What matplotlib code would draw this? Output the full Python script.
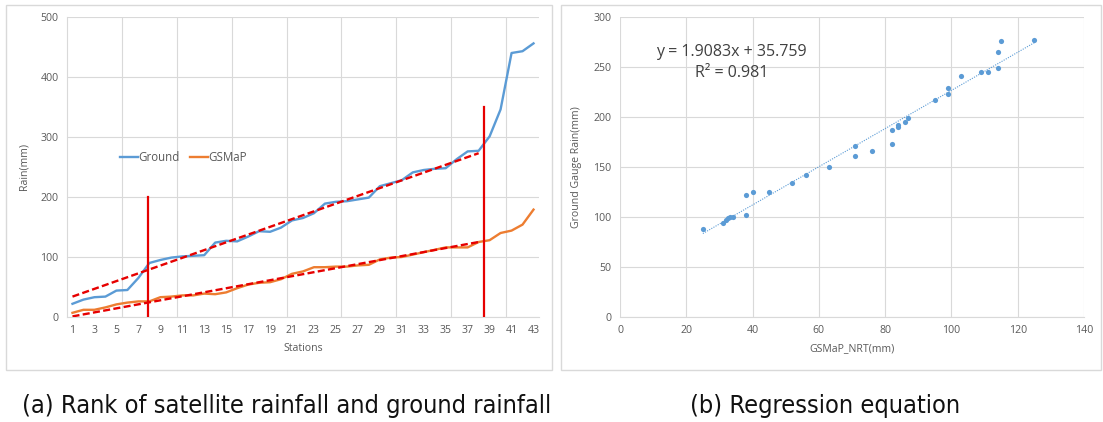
import numpy as np
import matplotlib.pyplot as plt
from matplotlib.patches import Rectangle
from matplotlib.ticker import MultipleLocator, FixedLocator

# ---------------- data ----------------
stations = np.arange(1, 44)
ground = [22, 29, 33, 34, 44, 45, 65, 90, 95, 99,
          101, 102, 103, 124, 127, 126, 134, 143, 142, 149,
          161, 165, 173, 189, 192, 193, 196, 199, 218, 223,
          228, 241, 245, 247, 248, 263, 276, 277, 301, 346,
          440, 443, 456]
gsmap = [7, 12, 12, 16, 21, 24, 26, 26, 33, 34,
         36, 36, 39, 38, 41, 48, 54, 57, 58, 63,
         72, 76, 83, 83, 84, 84, 86, 87, 96, 99,
         100, 104, 108, 112, 116, 116, 116, 125, 128, 140,
         144, 154, 179]
# dashed trend lines drawn over stations 1..38 (start / end values)
trend_x = [1, 38]
ground_trend = [34, 273]
gsmap_trend = [1, 125]
# red vertical markers
cut_x = [7.85, 38.5]
cut_top = [200, 350]

gsmap_nrt = [25, 31, 32, 32.7, 33.3, 34, 38, 38, 40, 45, 52, 56, 63,
             71, 71, 76, 82, 82, 84, 84, 86, 87, 95, 99, 99, 103,
             109, 111, 114, 114, 115, 125]
gauge = [88, 94, 97, 98.7, 99.7, 100.3, 122, 102, 125, 125, 134, 142, 150,
         171, 161, 166, 187, 173, 192, 190, 195, 199, 217, 229, 223, 241,
         245, 245, 265, 249, 276, 277]
slope, intercept, r2 = 1.9083, 35.759, 0.981

blue = '#5B9BD5'
orange = '#ED7D31'
red = '#E60000'
grid_c = '#D9D9D9'
txt_c = '#595959'

plt.rcParams['font.family'] = ['Open Sans', 'DejaVu Sans']

W, H = 1103, 422
fig = plt.figure(figsize=(W / 100, H / 100), dpi=100)


def px_axes(left, top, right, bottom):
    return fig.add_axes([left / W, 1 - bottom / H, (right - left) / W, (bottom - top) / H])


# panel frames
for x0, x1 in [(6, 552), (561, 1101)]:
    fig.patches.append(Rectangle((x0 / W, 1 - 370 / H), (x1 - x0) / W, 365 / H,
                                 transform=fig.transFigure, fill=False,
                                 edgecolor=grid_c, lw=1))

# ---------------- (a) rank chart ----------------
ax = px_axes(67, 17, 539, 317)
ax.plot(stations, ground, color=blue, lw=1.7, label='Ground', zorder=3)
ax.plot(stations, gsmap, color=orange, lw=1.7, label='GSMaP', zorder=3)

for tr in (ground_trend, gsmap_trend):
    ax.plot(trend_x, tr, color=red, lw=1.7, ls=(0, (3, 1.4)), zorder=4)

for xc, yt in zip(cut_x, cut_top):
    ax.plot([xc, xc], [0, yt], color=red, lw=1.6, zorder=5)

ax.set_xlim(0.5, 43.5)
ax.set_ylim(0, 500)
ax.set_xticks(stations[::2])
ax.xaxis.set_minor_locator(FixedLocator(np.arange(5.5, 43, 5)))
ax.yaxis.set_major_locator(MultipleLocator(100))
ax.grid(which='minor', axis='x', color=grid_c, lw=0.8)
ax.grid(which='major', axis='y', color=grid_c, lw=0.8)
ax.set_axisbelow(True)
ax.tick_params(which='both', length=0, labelsize=7.6, colors=txt_c, pad=6)
for s in ['top', 'right']:
    ax.spines[s].set_visible(False)
for s in ['left', 'bottom']:
    ax.spines[s].set_color(grid_c)
    ax.spines[s].set_linewidth(0.8)
ax.set_xlabel('Stations', fontsize=7.6, color=txt_c, labelpad=5)
ax.set_ylabel('Rain(mm)', fontsize=7.6, color=txt_c, labelpad=8)
ax.legend(loc='center left', bbox_to_anchor=(0.09, 0.533), ncol=2, frameon=False,
          fontsize=8.3, labelcolor=txt_c, handlelength=1.6, handletextpad=0.0,
          columnspacing=0.9)

# ---------------- (b) regression ----------------
bx = px_axes(620, 17, 1084, 317)
bx.scatter(gsmap_nrt, gauge, s=14, color=blue, zorder=3, linewidths=0)
tx = np.array([min(gsmap_nrt), max(gsmap_nrt)])
bx.plot(tx, slope * tx + intercept, color=blue, lw=0.8, ls=(0, (1, 1.2)), zorder=2)
bx.set_xlim(0, 140)
bx.set_ylim(0, 300)
bx.xaxis.set_major_locator(MultipleLocator(20))
bx.yaxis.set_major_locator(MultipleLocator(50))
bx.grid(color=grid_c, lw=0.8)
bx.set_axisbelow(True)
bx.tick_params(length=0, labelsize=7.6, colors=txt_c, pad=6)
for s in bx.spines.values():
    s.set_visible(False)
bx.spines['bottom'].set_visible(True)
bx.spines['bottom'].set_color(grid_c)
bx.set_xlabel('GSMaP_NRT(mm)', fontsize=7.6, color=txt_c, labelpad=5)
bx.set_ylabel('Ground Gauge Rain(mm)', fontsize=7.6, color=txt_c, labelpad=8)
bx.text(0.241, 0.885, f'y = {slope}x + {intercept}', transform=bx.transAxes,
        ha='center', va='center', fontsize=11.5, color='#404040')
bx.text(0.241, 0.812, f'R² = {r2}', transform=bx.transAxes,
        ha='center', va='center', fontsize=11.5, color='#404040')

# ---------------- captions ----------------
cap_kw = dict(ha='center', va='center', fontsize=18.2, family='DejaVu Sans',
              fontstretch='condensed', color='#111111')
fig.text(287 / W, 1 - 406 / H, '(a) Rank of satellite rainfall and ground rainfall', **cap_kw)
fig.text(825 / W, 1 - 406 / H, '(b) Regression equation', **cap_kw)

fig.savefig('out.png', dpi=100)
